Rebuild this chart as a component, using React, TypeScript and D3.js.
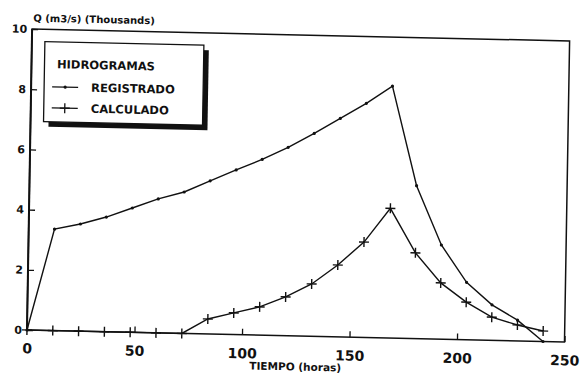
import { useEffect, useRef } from "react"
import * as d3 from "d3"

// hydrograph data (hours, thousand m3/s)
const tiempos = [0, 12, 24, 36, 48, 60, 72, 84, 96, 108, 120, 132, 144, 156, 168, 180, 192, 204, 216, 228, 240]
const registrado = [0, 3.37, 3.56, 3.81, 4.13, 4.45, 4.7, 5.09, 5.47, 5.84, 6.26, 6.74, 7.26, 7.78, 8.37, 5.08, 3.13, 1.91, 1.18, 0.69, 0]
const calculado = [0, 0, 0, 0, 0, 0, 0, 0.5, 0.72, 0.94, 1.29, 1.74, 2.39, 3.17, 4.31, 2.85, 1.87, 1.25, 0.77, 0.53, 0.35]
const xTicks = [0, 50, 100, 150, 200, 250]
const yTicks = [0, 2, 4, 6, 8, 10]

export default function App() {
  const svgRef = useRef<SVGSVGElement>(null)

  useEffect(() => {
    if (!svgRef.current) return
    d3.select(svgRef.current).selectAll("*").remove()

    const width = 537.5
    const height = 301

    // the scanned page is slightly rotated, so the whole plot sits in a skewed group
    const svg = d3
      .select(svgRef.current)
      .append("g")
      .attr("transform", "matrix(1,0.0223,-0.017,1,32.1,29)")

    const x = d3.scaleLinear().domain([0, 250]).range([0, width])
    const y = d3.scaleLinear().domain([0, 10]).range([height, 0])

    // frame
    svg
      .append("rect")
      .attr("width", width)
      .attr("height", height)
      .attr("fill", "none")
      .attr("stroke", "#111")
      .attr("stroke-width", 1.5)
    svg
      .append("line")
      .attr("x1", 0)
      .attr("x2", 0)
      .attr("y1", 0)
      .attr("y2", height)
      .attr("stroke", "#111")
      .attr("stroke-width", 2)

    // axes
    const xAxis = svg
      .append("g")
      .attr("transform", `translate(0,${height})`)
      .call(d3.axisBottom(x).tickValues(xTicks).tickSizeInner(-6).tickSizeOuter(0).tickPadding(13.5))
    xAxis.select(".domain").remove()
    xAxis.selectAll("line").attr("stroke", "#111").attr("stroke-width", 1.3)
    xAxis
      .selectAll("text")
      .attr("fill", "#111")
      .style("font-family", "DejaVu Sans")
      .style("font-weight", "bold")
      .style("font-size", "14px")

    const yAxis = svg
      .append("g")
      .call(d3.axisLeft(y).tickValues(yTicks).tickSizeInner(-6).tickSizeOuter(0).tickPadding(5))
    yAxis.select(".domain").remove()
    yAxis.selectAll("line").attr("stroke", "#111").attr("stroke-width", 1.3)
    yAxis
      .selectAll("text")
      .attr("fill", "#111")
      .style("font-family", "DejaVu Sans")
      .style("font-weight", "bold")
      .style("font-size", "11px")

    // axis titles
    svg
      .append("text")
      .attr("x", 1)
      .attr("y", -7.5)
      .attr("fill", "#111")
      .style("font-family", "DejaVu Sans")
      .style("font-weight", "bold")
      .style("font-size", "10px")
      .text("Q (m3/s) (Thousands)")

    svg
      .append("text")
      .attr("x", width / 2)
      .attr("y", height + 34.5)
      .attr("text-anchor", "middle")
      .attr("fill", "#111")
      .style("font-family", "DejaVu Sans")
      .style("font-weight", "bold")
      .style("font-size", "10.5px")
      .text("TIEMPO (horas)")

    // series
    const line = d3
      .line<number>()
      .x((_, i) => x(tiempos[i]))
      .y((d) => y(d))

    svg
      .append("path")
      .datum(registrado)
      .attr("d", line)
      .attr("fill", "none")
      .attr("stroke", "#111")
      .attr("stroke-width", 1.4)

    svg
      .append("g")
      .selectAll("circle")
      .data(registrado)
      .enter()
      .append("circle")
      .attr("cx", (_, i) => x(tiempos[i]))
      .attr("cy", (d) => y(d))
      .attr("r", 1.6)
      .attr("fill", "#111")

    svg
      .append("path")
      .datum(calculado)
      .attr("d", line)
      .attr("fill", "none")
      .attr("stroke", "#111")
      .attr("stroke-width", 1.4)

    const plus = (cx: number, cy: number, s: number) =>
      `M${cx - s},${cy}H${cx + s}M${cx},${cy - s}V${cy + s}`

    svg
      .append("g")
      .selectAll("path")
      .data(calculado)
      .enter()
      .append("path")
      .attr("d", (d, i) => plus(x(tiempos[i]), y(d), 5))
      .attr("stroke", "#111")
      .attr("stroke-width", 1.4)

    // legend with drop shadow
    const legend = svg.append("g").attr("transform", "translate(13,12.4)")
    legend.append("rect").attr("x", 5).attr("y", 5).attr("width", 159).attr("height", 80).attr("fill", "#111")
    legend
      .append("rect")
      .attr("width", 159)
      .attr("height", 80)
      .attr("fill", "white")
      .attr("stroke", "#111")
      .attr("stroke-width", 1.3)

    legend
      .append("text")
      .attr("x", 12.5)
      .attr("y", 26.3)
      .attr("fill", "#111")
      .style("font-family", "DejaVu Sans")
      .style("font-weight", "bold")
      .style("font-size", "11.5px")
      .text("HIDROGRAMAS")

    const items = [
      { label: "REGISTRADO", marker: "dot", y: 45 },
      { label: "CALCULADO", marker: "plus", y: 66 },
    ]
    items.forEach((it) => {
      legend
        .append("line")
        .attr("x1", 8)
        .attr("x2", 34)
        .attr("y1", it.y)
        .attr("y2", it.y)
        .attr("stroke", "#111")
        .attr("stroke-width", 1.3)
      if (it.marker === "dot") {
        legend.append("circle").attr("cx", 21).attr("cy", it.y).attr("r", 1.6).attr("fill", "#111")
      } else {
        legend.append("path").attr("d", plus(21, it.y, 5)).attr("stroke", "#111").attr("stroke-width", 1.3)
      }
      legend
        .append("text")
        .attr("x", 47)
        .attr("y", it.y + 4)
        .attr("fill", "#111")
        .style("font-family", "DejaVu Sans")
        .style("font-weight", "bold")
        .style("font-size", "11.5px")
        .text(it.label)
    })
  }, [])

  return (
    <svg
      ref={svgRef}
      width={582}
      height={374}
      style={{ position: "absolute", left: 0, top: 0, background: "white" }}
    ></svg>
  )
}
